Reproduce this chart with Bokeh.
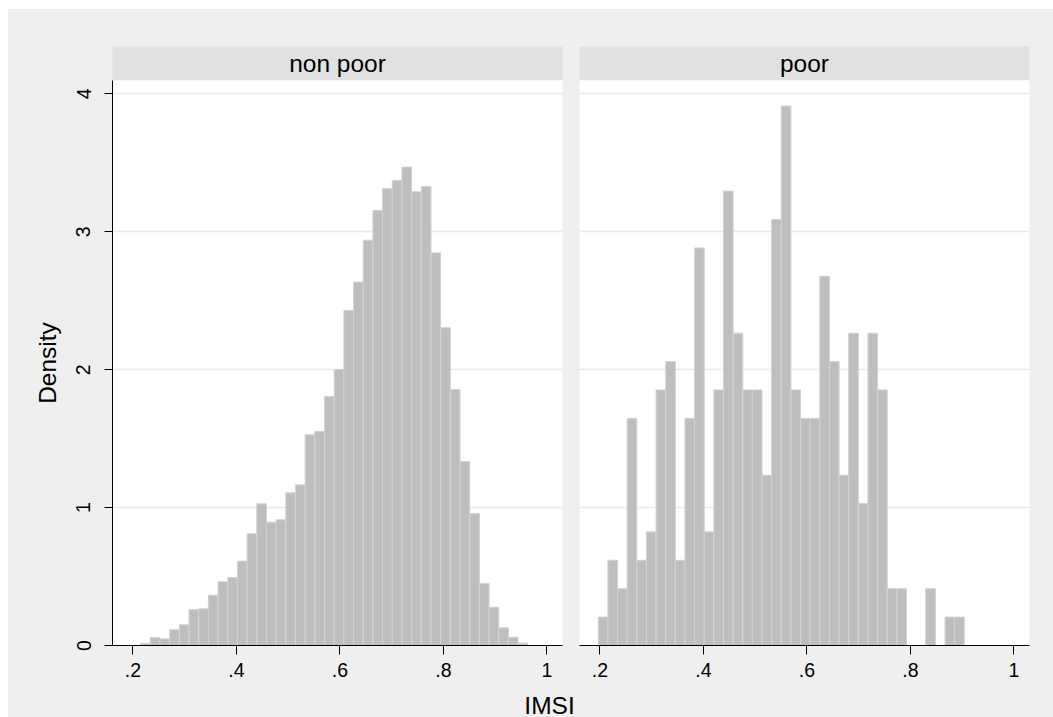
from bokeh.plotting import figure
from bokeh.layouts import column, row
from bokeh.models import (Range1d, FixedTicker, Label, Grid, Spacer)
from bokeh.embed import file_html
from bokeh.resources import INLINE

# ---------------- data ----------------
groups = ["non poor", "poor"]

nonpoor_bin_start = 0.2149
nonpoor_bin_width = 0.0187
nonpoor_density = [0.015, 0.058, 0.048, 0.114, 0.150, 0.259, 0.266, 0.365, 0.462, 0.493,
                   0.612, 0.810, 1.027, 0.894, 0.911, 1.107, 1.165, 1.528, 1.552, 1.805,
                   2.001, 2.429, 2.635, 2.939, 3.154, 3.312, 3.372, 3.469, 3.290, 3.329,
                   2.847, 2.304, 1.856, 1.334, 0.957, 0.450, 0.278, 0.128, 0.060, 0.017]

poor_bin_start = 0.1968
poor_bin_width = 0.01861
poor_density = [0.206, 0.618, 0.412, 1.647, 0.618, 0.824, 1.853, 2.059, 0.618, 1.647,
                2.883, 0.824, 1.853, 3.295, 2.265, 1.853, 1.853, 1.235, 3.089, 3.912,
                1.853, 1.647, 1.647, 2.677, 2.059, 1.235, 2.265, 1.030, 2.265, 1.853,
                0.412, 0.412, 0.0, 0.0, 0.412, 0.0, 0.206, 0.206]

x_ticks = [0.2, 0.4, 0.6, 0.8, 1.0]
x_tick_labels = [".2", ".4", ".6", ".8", "1"]
y_ticks = [0, 1, 2, 3, 4]
x_title = "IMSI"
y_title = "Density"

# ---------------- style ----------------
FONT = "Liberation Sans"
BG = "#efefef"
STRIP = "#e1e1e1"
GRID = "#e9e9e9"
BAR_FILL = "#bebebe"
BAR_LINE = "#d2d2d2"
TICK_FS = "19.5px"
TITLE_FS = "24.5px"

X_RANGE = (0.1605, 1.0300)
Y_RANGE = (0.0, 4.097)


def strip(text, left, right, width):
    s = figure(width=width, height=71, x_range=(0, 1), y_range=(0, 1),
               x_axis_location=None, y_axis_location=None,
               toolbar_location=None, output_backend="svg",
               min_border_left=left, min_border_right=right,
               min_border_top=37, min_border_bottom=0)
    s.background_fill_color = STRIP
    s.border_fill_color = BG
    s.outline_line_color = None
    s.grid.visible = False
    s.add_layout(Label(x=0.5, y=0.5, text=text, text_align="center",
                       text_baseline="middle", text_font=FONT,
                       text_font_size=TITLE_FS, text_color="black"))
    return s


def panel(bin_start, bin_width, dens, left, right, width, show_y):
    p = figure(width=width, height=607,
               x_range=Range1d(*X_RANGE), y_range=Range1d(*Y_RANGE),
               y_axis_location="left" if show_y else None,
               toolbar_location=None, output_backend="svg",
               min_border_left=left, min_border_right=right,
               min_border_top=0, min_border_bottom=42)
    p.background_fill_color = "white"
    p.border_fill_color = BG
    p.outline_line_color = None

    lefts = [bin_start + i * bin_width for i in range(len(dens))]
    rights = [l + bin_width for l in lefts]
    p.quad(left=lefts, right=rights, bottom=0, top=dens,
           fill_color=BAR_FILL, line_color=BAR_LINE, line_width=1)

    p.xgrid.visible = False
    if show_y:
        p.ygrid.ticker = FixedTicker(ticks=y_ticks)
        p.ygrid.grid_line_color = GRID
        p.ygrid.grid_line_width = 1.3
        ax = p.yaxis[0]
        ax.ticker = FixedTicker(ticks=y_ticks)
        ax.minor_tick_line_color = None
        ax.major_tick_in = 0
        ax.major_tick_out = 8
        ax.axis_line_color = "black"
        ax.major_tick_line_color = "black"
        ax.major_label_orientation = "vertical"
        ax.major_label_text_font = FONT
        ax.major_label_text_font_size = TICK_FS
        ax.major_label_text_color = "black"
        ax.major_label_standoff = 14
        ax.axis_label = y_title
        ax.axis_label_text_font = FONT
        ax.axis_label_text_font_size = TITLE_FS
        ax.axis_label_text_font_style = "normal"
        ax.axis_label_text_color = "black"
        ax.axis_label_standoff = 13
    else:
        g = Grid(dimension=1, ticker=FixedTicker(ticks=y_ticks),
                 grid_line_color=GRID, grid_line_width=1.3)
        p.add_layout(g)
        p.renderers.insert(0, p.renderers.pop())

    xa = p.xaxis[0]
    xa.ticker = FixedTicker(ticks=x_ticks)
    xa.major_label_overrides = dict(zip(x_ticks, x_tick_labels))
    xa.minor_tick_line_color = None
    xa.major_tick_in = 0
    xa.major_tick_out = 9
    xa.axis_line_color = "black"
    xa.major_tick_line_color = "black"
    xa.major_label_text_font = FONT
    xa.major_label_text_font_size = TICK_FS
    xa.major_label_text_color = "black"
    xa.major_label_standoff = 8
    return p


s1 = strip(groups[0], 104, 17, 571)
s2 = strip(groups[1], 0, 24, 474)
p1 = panel(nonpoor_bin_start, nonpoor_bin_width, nonpoor_density, 104, 17, 571, True)
p2 = panel(poor_bin_start, poor_bin_width, poor_density, 0, 24, 474, False)

# bottom strip carrying the shared x-axis title
b = figure(width=1045, height=30, x_range=(0, 1), y_range=(0, 1),
           x_axis_location=None, y_axis_location=None,
           toolbar_location=None, output_backend="svg",
           min_border_left=0, min_border_right=0,
           min_border_top=0, min_border_bottom=0)
b.background_fill_color = BG
b.border_fill_color = BG
b.outline_line_color = None
b.grid.visible = False
b.add_layout(Label(x=541, y=12, x_units="screen", y_units="screen",
                   text=x_title, text_align="center", text_baseline="middle",
                   text_font=FONT, text_font_size=TITLE_FS, text_color="black"))

inner = column(row(column(s1, p1, spacing=0), column(s2, p2, spacing=0),
                   spacing=0, styles={"background-color": BG}),
               b, spacing=0, styles={"background-color": BG})

layout = column(Spacer(width=1053, height=9),
                row(Spacer(width=8, height=708), inner, spacing=0),
                spacing=0)

open("out.html", "w").write(file_html(layout, INLINE))
